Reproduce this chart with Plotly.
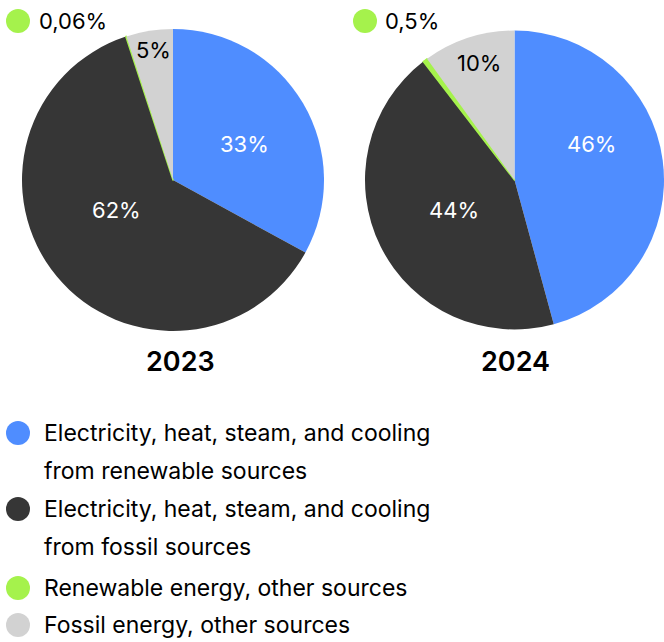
import plotly.graph_objects as go

categories = [
    "Electricity, heat, steam, and cooling<br>from renewable sources",
    "Electricity, heat, steam, and cooling<br>from fossil sources",
    "Renewable energy, other sources",
    "Fossil energy, other sources",
]
years = ["2023", "2024"]
values_2023 = [33, 62, 0.06, 5]
values_2024 = [46, 44, 0.5, 10]
labels_2023 = ["33%", "62%", "", "5%"]
labels_2024 = ["46%", "44%", "", "10%"]
small_labels = ["0,06%", "0,5%"]
colors = ["#4F8DFF", "#363636", "#A5F24C", "#D2D2D2"]
text_colors = ["#FFFFFF", "#FFFFFF", "#000000", "#000000"]

W, H = 664, 642
FONT = "Inter"

fig = go.Figure()

pies = [
    (values_2023, (22, 324), (29, 331)),
    (values_2024, (365, 664), (30, 330)),
]
for vals, (x0, x1), (y0, y1) in pies:
    fig.add_trace(go.Pie(
        values=vals,
        labels=[c.replace("<br>", " ") for c in categories],
        textinfo="none",
        sort=False,
        direction="clockwise",
        rotation=0,
        marker=dict(colors=colors,
                    line=dict(color=["rgba(0,0,0,0)", "rgba(0,0,0,0)", colors[2], "rgba(0,0,0,0)"],
                              width=[0, 0, 1.5, 0])),
        domain=dict(x=[x0 / W, x1 / W], y=[1 - y1 / H, 1 - y0 / H]),
        showlegend=False,
        hoverinfo="label+percent",
    ))

annotations = []
shapes = []

# percentage labels inside slices
label_pos = {
    0: [(244, 144), (116, 210), None, (153, 50)],
    1: [(591, 144), (454, 210), None, (479, 63)],
}
for i, labs in enumerate([labels_2023, labels_2024]):
    for lab, pos, tc in zip(labs, label_pos[i], text_colors):
        if not lab or pos is None:
            continue
        annotations.append(dict(text=lab, x=pos[0] / W, y=1 - pos[1] / H, xref="paper", yref="paper",
                                xanchor="center", yanchor="middle", showarrow=False,
                                font=dict(family=FONT, size=22, color=tc)))

# small-value labels at top
for (cx, tx), lab in zip([(18, 37), (365, 383)], small_labels):
    shapes.append(dict(type="circle", xref="paper", yref="paper",
                       x0=(cx - 12) / W, x1=(cx + 12) / W,
                       y0=1 - (21 + 12) / H, y1=1 - (21 - 12) / H,
                       fillcolor=colors[2], line=dict(width=0)))
    annotations.append(dict(text=lab, x=tx / W, y=1 - 21 / H, xref="paper", yref="paper",
                            xanchor="left", yanchor="middle", showarrow=False,
                            font=dict(family=FONT, size=22, color="#000000")))

# year labels
for cx, yr in zip([180, 515], years):
    annotations.append(dict(text=yr, x=cx / W, y=1 - 361 / H,
                            xref="paper", yref="paper", xanchor="center", yanchor="middle",
                            showarrow=False,
                            font=dict(family=FONT, size=27, color="#000000", weight=600)))

# legend
legend_rows = [(433, 471), (509, 547), (588, None), (625, None)]
for cat, col, (ya, yb) in zip(categories, colors, legend_rows):
    shapes.append(dict(type="circle", xref="paper", yref="paper",
                       x0=(18 - 12) / W, x1=(18 + 12) / W,
                       y0=1 - (ya + 12) / H, y1=1 - (ya - 12) / H,
                       fillcolor=col, line=dict(width=0)))
    parts = cat.split("<br>")
    for part, yy in zip(parts, [ya, yb]):
        annotations.append(dict(text=part, x=42 / W, y=1 - yy / H, xref="paper", yref="paper",
                                xanchor="left", yanchor="middle", showarrow=False,
                                font=dict(family=FONT, size=23, color="#000000")))

fig.update_layout(
    width=W, height=H,
    margin=dict(l=0, r=0, t=0, b=0),
    paper_bgcolor="#FFFFFF",
    plot_bgcolor="#FFFFFF",
    annotations=annotations,
    shapes=shapes,
    font=dict(family=FONT),
)

fig.write_html("out.html")
